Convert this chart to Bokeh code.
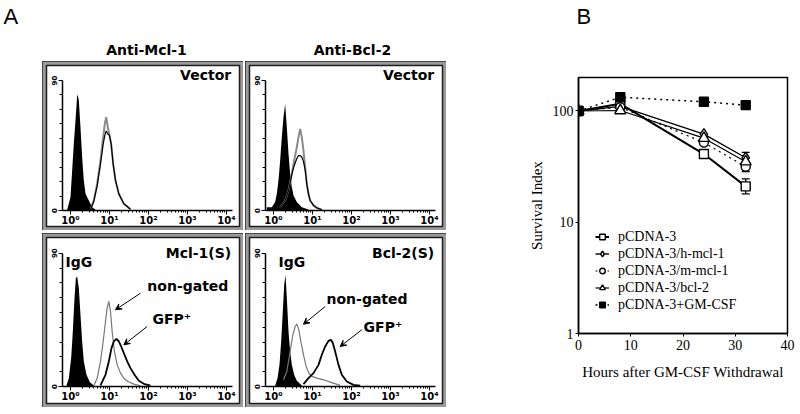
import numpy as np
from bokeh.plotting import figure
from bokeh.layouts import row, column
from bokeh.models import (Range1d, FixedTicker, Label, Arrow, VeeHead, Spacer,
                          Whisker, TeeHead, ColumnDataSource, Legend, LegendItem)
from bokeh.embed import file_html
from bokeh.resources import INLINE

# ---------------- Panel A data (log10 fluorescence, cell counts) ----------------
tl_fill_log = [-0.085, 0.0, 0.043, 0.085, 0.128, 0.171, 0.188, 0.214, 0.256, 0.299, 0.342, 0.385, 0.47, 0.556, 0.641]
tl_fill_cnt = [0.5, 9.2, 27.7, 46.2, 62.3, 79.6, 79.6, 76.2, 57.7, 36.9, 20.8, 11.5, 6.9, 2.3, 0.5]
tl_open_log = [0.513, 0.598, 0.684, 0.769, 0.838, 0.88, 0.915, 0.957, 1.0, 1.043, 1.094, 1.154, 1.239, 1.368, 1.538]
tl_open_cnt = [0.5, 6.9, 18.5, 34.6, 50.8, 60.0, 64.6, 57.7, 51.9, 46.2, 32.3, 20.8, 11.5, 4.6, 0.9]
tl_open2_cnt = [0.5, 6.5, 17.0, 32.0, 46.0, 52.0, 55.0, 53.0, 52.0, 46.0, 32.0, 20.8, 11.5, 4.6, 0.9]

tr_fill_log = [-0.171, -0.043, 0.043, 0.085, 0.128, 0.171, 0.214, 0.256, 0.299, 0.342, 0.385, 0.427, 0.47, 0.513, 0.598, 0.726, 0.897]
tr_fill_cnt = [2.3, 2.3, 5.8, 11.5, 20.8, 34.6, 50.8, 64.6, 73.8, 57.7, 39.2, 25.4, 16.2, 10.4, 5.8, 2.3, 0.7]
tr_open_log = [0.171, 0.299, 0.385, 0.47, 0.53, 0.598, 0.641, 0.684, 0.726, 0.769, 0.812, 0.855, 0.897, 0.94, 1.026, 1.111, 1.239]
tr_open_cnt = [2.3, 6.9, 13.8, 25.4, 34.6, 43.8, 50.8, 56.5, 50.8, 41.5, 30.0, 18.5, 11.5, 6.9, 3.5, 1.8, 0.5]
tr_open2_cnt = [2.3, 6.9, 13.8, 25.0, 31.0, 36.0, 38.0, 38.0, 37.0, 34.0, 28.0, 18.0, 11.5, 6.9, 3.5, 1.8, 0.5]

bl_fill_log = [-0.103, -0.043, 0.017, 0.06, 0.103, 0.137, 0.171, 0.214, 0.256, 0.299, 0.342, 0.41, 0.496, 0.598]
bl_fill_cnt = [0.7, 5.6, 19.1, 37.1, 59.6, 73.1, 74.3, 66.4, 48.4, 30.4, 16.9, 7.9, 2.9, 0.7]
bl_ng_log = [0.598, 0.684, 0.769, 0.838, 0.897, 0.94, 0.983, 1.026, 1.068, 1.128, 1.197, 1.282, 1.368, 1.47, 1.624, 1.795]
bl_ng_cnt = [0.7, 5.6, 16.9, 30.4, 43.9, 52.9, 57.4, 50.6, 37.1, 23.6, 14.6, 9.0, 5.6, 3.4, 1.6, 0.5]
bl_gfp_log = [0.769, 0.897, 0.983, 1.051, 1.111, 1.179, 1.239, 1.299, 1.368, 1.453, 1.538, 1.641, 1.752, 1.88, 2.051]
bl_gfp_cnt = [0.7, 7.9, 16.9, 25.9, 30.4, 32.2, 30.4, 27.0, 22.5, 16.9, 12.4, 7.9, 3.8, 1.8, 0.5]

br_fill_log = [0.043, 0.103, 0.154, 0.197, 0.239, 0.274, 0.308, 0.342, 0.385, 0.427, 0.47, 0.53, 0.598, 0.726]
br_fill_cnt = [0.7, 5.6, 14.6, 30.4, 50.6, 68.6, 75.4, 59.6, 37.1, 23.6, 14.6, 7.9, 3.8, 0.7]
br_ng_log = [0.256, 0.342, 0.427, 0.496, 0.556, 0.598, 0.65, 0.701, 0.769, 0.838, 0.906, 0.983, 1.111, 1.282, 1.453, 1.709]
br_ng_cnt = [4.5, 10.1, 23.6, 34.9, 40.5, 42.1, 38.2, 30.4, 21.4, 13.5, 9.0, 6.8, 5.6, 4.5, 2.9, 0.7]
br_gfp_log = [0.769, 0.897, 1.026, 1.154, 1.239, 1.325, 1.41, 1.47, 1.521, 1.581, 1.667, 1.752, 1.88, 2.051, 2.222]
br_gfp_cnt = [1.6, 5.6, 9.0, 14.6, 21.4, 27.0, 30.8, 31.5, 29.3, 23.6, 14.6, 7.9, 3.4, 1.1, 0.5]

decade_ticks = [1, 10, 100, 1000, 10000]
decade_labels = ["10\u2070", "10\u00b9", "10\u00b2", "10\u00b3", "10\u2074"]
count_ticks = [0, 90]
count_minor = [10, 20, 30, 40, 50, 60, 70, 80]

# ---------------- Panel B data ----------------
hours = [0, 8, 24, 32]
series_names = ["pCDNA-3", "pCDNA-3/h-mcl-1", "pCDNA-3/m-mcl-1", "pCDNA-3/bcl-2", "pCDNA-3+GM-CSF"]
pcdna3 = [100, 116, 41, 21]
h_mcl1 = [100, 110, 62, 38]
m_mcl1 = [100, 108, 52, 31.5]
bcl2 = [100, 101, 57, 35]
gmcsf = [100, 133, 121, 113]
err_hours = [32, 32, 32]
err_low = [18, 34.5, 28.5]
err_high = [24.5, 42.5, 34.5]

SANS = "DejaVu Sans"
SERIF = "Liberation Serif"

X_START, X_END = -0.615, 4.333
YAXIS_AT = -0.213


def make_hist(height, y_start, y_end):
    p = figure(width=201, height=height, x_axis_type="log",
               x_range=Range1d(10 ** X_START, 10 ** X_END),
               y_range=Range1d(y_start, y_end),
               output_backend="svg", toolbar_location=None,
               min_border=4, border_fill_color="#9a9a9a",
               background_fill_color="white",
               outline_line_color="#1e1e1e", outline_line_width=1.5)
    p.styles = {"outline": "1px solid #2a2a2a", "outline-offset": "-1px"}
    p.xgrid.visible = False
    p.ygrid.visible = False
    xa = p.xaxis[0]
    ya = p.yaxis[0]
    xa.fixed_location = 0
    ya.fixed_location = 10 ** YAXIS_AT
    xa.bounds = (10 ** YAXIS_AT, 10 ** 4.15)
    ya.bounds = (0, 90)
    xa.ticker = FixedTicker(ticks=decade_ticks,
                            minor_ticks=[m * d for d in [1, 10, 100, 1000] for m in range(2, 10)])
    xa.major_label_overrides = {t: l for t, l in zip(decade_ticks, decade_labels)}
    ya.ticker = FixedTicker(ticks=count_ticks, minor_ticks=count_minor)
    for ax in (xa, ya):
        ax.axis_line_color = "black"
        ax.axis_line_width = 1.5
        ax.major_tick_line_color = "black"
        ax.minor_tick_line_color = "black"
        ax.major_tick_in = 0
        ax.minor_tick_in = 0
        ax.major_label_text_font = SANS
        ax.major_label_text_font_style = "bold"
        ax.major_label_text_color = "black"
    xa.major_tick_out = 4
    xa.minor_tick_out = 2
    xa.major_label_text_font_size = "10px"
    xa.major_label_standoff = 1
    ya.major_tick_out = 4
    ya.minor_tick_out = 3
    ya.major_label_text_font_size = "7px"
    ya.major_label_orientation = "vertical"
    ya.major_label_standoff = 1
    return p


def lx(a):
    return [10 ** v for v in a]


def corner(p, text, y):
    p.add_layout(Label(x=10 ** 4.12, y=y, text=text, text_align="right", text_baseline="middle",
                       text_font=SANS, text_font_style="bold", text_font_size="14px", text_color="black"))


def note(p, text, xlog, y):
    p.add_layout(Label(x=10 ** xlog, y=y, text=text, text_align="left", text_baseline="middle",
                       text_font=SANS, text_font_style="bold", text_font_size="14px", text_color="black"))


def arrow(p, x0, y0, x1, y1):
    p.add_layout(Arrow(end=VeeHead(size=6, line_color="black", fill_color="black", line_width=1),
                       x_start=10 ** x0, y_start=y0, x_end=10 ** x1, y_end=y1,
                       line_color="black", line_width=1))


TOP_H, BOT_H = 169, 174
top_ys = (-11.1, 100.4)
bot_ys = (-11.5, 100.6)

# top-left: Anti-Mcl-1, Vector
h1 = make_hist(TOP_H, *top_ys)
h1.varea(x=lx(tl_fill_log), y1=0, y2=tl_fill_cnt, fill_color="black")
h1.line(lx(tl_open_log), tl_open_cnt, line_color="#8a8a8a", line_width=2)
h1.line(lx(tl_open_log), tl_open2_cnt, line_color="black", line_width=1.2)
corner(h1, "Vector", 93.5)

# top-right: Anti-Bcl-2, Vector
h2 = make_hist(TOP_H, *top_ys)
h2.varea(x=lx(tr_fill_log), y1=0, y2=tr_fill_cnt, fill_color="black")
h2.line(lx(tr_open_log), tr_open_cnt, line_color="#8a8a8a", line_width=2)
h2.line(lx(tr_open_log), tr_open2_cnt, line_color="black", line_width=1.2)
corner(h2, "Vector", 93.5)

# bottom-left: Mcl-1(S)
h3 = make_hist(BOT_H, *bot_ys)
h3.varea(x=lx(bl_fill_log), y1=0, y2=bl_fill_cnt, fill_color="black")
h3.line(lx(bl_ng_log), bl_ng_cnt, line_color="#777777", line_width=1.2)
h3.line(lx(bl_gfp_log), bl_gfp_cnt, line_color="black", line_width=1.8)
corner(h3, "Mcl-1(S)", 90)
note(h3, "IgG", -0.128, 84)
note(h3, "non-gated", 1.97, 68)
note(h3, "GFP\u207a", 2.1, 45.7)
arrow(h3, 1.795, 63, 1.154, 51.8)
arrow(h3, 1.966, 40.5, 1.368, 28.1)

# bottom-right: Bcl-2(S)
h4 = make_hist(BOT_H, *bot_ys)
h4.varea(x=lx(br_fill_log), y1=0, y2=br_fill_cnt, fill_color="black")
h4.line(lx(br_ng_log), br_ng_cnt, line_color="#777777", line_width=1.2)
h4.line(lx(br_gfp_log), br_gfp_cnt, line_color="black", line_width=1.8)
corner(h4, "Bcl-2(S)", 90)
note(h4, "IgG", 0.13, 84)
note(h4, "non-gated", 1.36, 59)
note(h4, "GFP\u207a", 2.31, 40)
arrow(h4, 1.325, 54, 0.769, 42)
arrow(h4, 2.265, 38.3, 1.71, 27)

# ---------------- header ----------------
HEAD_H = 61
head = figure(width=800, height=HEAD_H, x_range=Range1d(0, 800), y_range=Range1d(HEAD_H, 0),
              output_backend="svg", toolbar_location=None, min_border=0,
              outline_line_color=None, background_fill_color="white", border_fill_color="white")
head.axis.visible = False
head.grid.visible = False
head.add_layout(Label(x=3, y=16, text="A", text_align="left", text_baseline="middle",
                      text_font="Liberation Sans", text_font_size="22px", text_color="black"))
head.add_layout(Label(x=576, y=16, text="B", text_align="left", text_baseline="middle",
                      text_font="Liberation Sans", text_font_size="22px", text_color="black"))
head.add_layout(Label(x=146, y=49, text="Anti-Mcl-1", text_align="center", text_baseline="middle",
                      text_font=SANS, text_font_style="bold", text_font_size="14px", text_color="black"))
head.add_layout(Label(x=352, y=49, text="Anti-Bcl-2", text_align="center", text_baseline="middle",
                      text_font=SANS, text_font_style="bold", text_font_size="14px", text_color="black"))

# ---------------- Panel B ----------------
pb = figure(width=354, height=346, y_axis_type="log",
            x_range=Range1d(0, 40), y_range=Range1d(1, 200),
            output_backend="svg", toolbar_location=None,
            min_border_left=132, min_border_right=13, min_border_top=16, min_border_bottom=74,
            outline_line_color="black", outline_line_width=1.5,
            background_fill_color="white", border_fill_color="white")
pb.xgrid.visible = False
pb.ygrid.visible = False
pb.xaxis.ticker = FixedTicker(ticks=[0, 10, 20, 30, 40])
pb.yaxis.ticker = FixedTicker(ticks=[1, 10, 100])
pb.yaxis.major_label_overrides = {1: "1", 10: "10", 100: "100"}
pb.xaxis.axis_label = "Hours after GM-CSF Withdrawal"
pb.yaxis.axis_label = "Survival Index"
for ax in (pb.xaxis[0], pb.yaxis[0]):
    ax.axis_line_width = 1.5
    ax.axis_line_color = "black"
    ax.major_tick_in = 0
    ax.major_tick_out = 3
    ax.minor_tick_line_color = None
    ax.major_label_text_font = SERIF
    ax.major_label_text_font_size = "14px"
    ax.major_label_text_color = "black"
    ax.axis_label_text_font = SERIF
    ax.axis_label_text_font_size = "15px"
    ax.axis_label_text_font_style = "normal"
    ax.axis_label_text_color = "black"
pb.xaxis.major_label_standoff = 3
pb.xaxis.axis_label_standoff = 11
pb.yaxis.major_label_standoff = 2
pb.yaxis.axis_label_standoff = 5

err = ColumnDataSource(data=dict(x=err_hours, lower=err_low, upper=err_high))
pb.add_layout(Whisker(source=err, base="x", lower="lower", upper="upper", dimension="height",
                      line_color="black", line_width=1.3,
                      upper_head=TeeHead(size=8, line_color="black", line_width=1.3),
                      lower_head=TeeHead(size=8, line_color="black", line_width=1.3)))

styles = [
    (pcdna3, "solid", 2.0, "square", "white"),
    (h_mcl1, "solid", 1.4, "diamond", "white"),
    (m_mcl1, "dotted", 1.2, "circle", "white"),
    (bcl2, "solid", 1.2, "triangle", "white"),
    (gmcsf, "dotted", 1.5, "square", "black"),
]
items = []
for name, (vals, dash, lw, mk, fc) in zip(series_names, styles):
    lr = pb.line(hours, vals, line_color="black", line_width=lw, line_dash=dash)
    sz = 11 if mk in ("diamond", "triangle") else 9
    mr = pb.scatter(hours, vals, marker=mk, size=sz, fill_color=fc, line_color="black", line_width=1.4)
    items.append(LegendItem(label=name, renderers=[lr, mr]))

leg = Legend(items=items, location=(17, 20), border_line_color=None, background_fill_alpha=0,
             padding=0, margin=0, spacing=0, glyph_width=14, glyph_height=17, label_height=17,
             label_standoff=9, label_text_font=SERIF, label_text_font_size="14px",
             label_text_color="black")
pb.add_layout(leg)

gridA = column(row(h1, Spacer(width=2), h2), Spacer(height=3), row(h3, Spacer(width=2), h4))
body = row(Spacer(width=42), gridA, pb)
layout = column(head, body)

open("out.html", "w").write(file_html(layout, INLINE))
